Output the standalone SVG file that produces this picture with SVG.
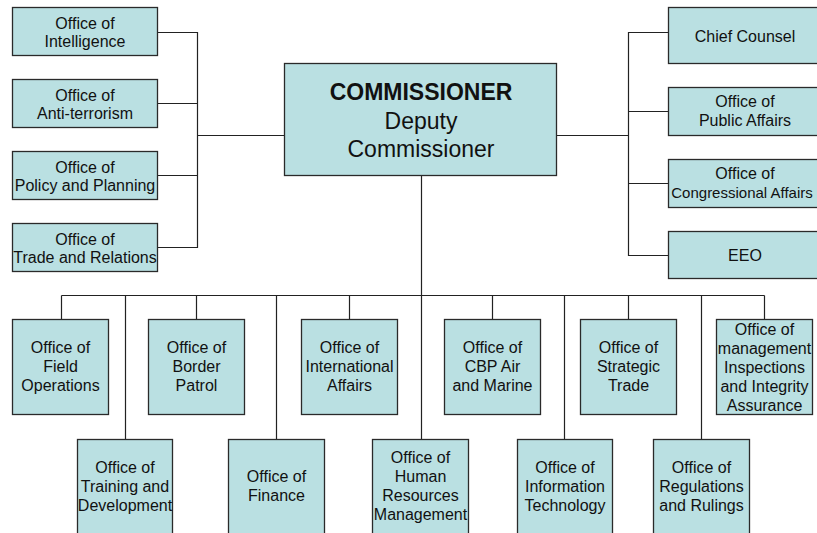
<svg xmlns="http://www.w3.org/2000/svg" width="817" height="533" viewBox="0 0 817 533">
<style>
.box{fill:#BAE0E2;stroke:#2a2a2a;stroke-width:1.3}
.t{font-family:"Liberation Sans",Arial,sans-serif;font-size:16px;fill:#111;text-anchor:middle}
.big{font-family:"Liberation Sans",Arial,sans-serif;font-size:23px;fill:#111;text-anchor:middle}
.c{fill:none;stroke:#222;stroke-width:1.2}
</style>
<rect width="817" height="533" fill="#fff"/>
<g id="connectors" class="c">
<path d="M157,32.5 H197.5 V247.5 H157 M157,103.5 H197.5 M157,175.5 H197.5 M197.5,135.5 H284"/>
<path d="M668,32.5 H628.5 V255.5 H668 M628.5,111.5 H668 M628.5,183.5 H668 M557,135.5 H628.5"/>
<path d="M421.5,176 V439 M61.5,295.5 H764.5"/>
<path d="M61.5,295.5 V319 M125.5,295.5 V439 M196.5,295.5 V319 M276.5,295.5 V439 M349.5,295.5 V319 M492.5,295.5 V319 M564.5,295.5 V439 M628.5,295.5 V319 M701.5,295.5 V439 M764.5,295.5 V319"/>
</g>
<g id="commissioner">
<rect class="box" x="284.5" y="63.5" width="272" height="112"/>
<text class="big" x="421" y="100" font-weight="bold">COMMISSIONER</text>
<text class="big" x="421" y="129">Deputy</text>
<text class="big" x="421" y="157">Commissioner</text>
</g>
<g id="intelligence">
<rect class="box" x="12.5" y="7.5" width="145" height="48"/>
<text class="t" x="85" y="29">Office of</text><text class="t" x="85" y="47">Intelligence</text>
</g>
<g id="antiterrorism">
<rect class="box" x="12.5" y="79.5" width="145" height="48"/>
<text class="t" x="85" y="101">Office of</text><text class="t" x="85" y="119">Anti-terrorism</text>
</g>
<g id="policy">
<rect class="box" x="12.5" y="151.5" width="145" height="48"/>
<text class="t" x="85" y="173">Office of</text><text class="t" x="85" y="191">Policy and Planning</text>
</g>
<g id="trade-relations">
<rect class="box" x="12.5" y="223.5" width="145" height="48"/>
<text class="t" x="85" y="245">Office of</text><text class="t" x="85" y="263">Trade and Relations</text>
</g>
<g id="chief-counsel">
<rect class="box" x="668.5" y="7.5" width="154" height="56"/>
<text class="t" x="745" y="42">Chief Counsel</text>
</g>
<g id="public-affairs">
<rect class="box" x="668.5" y="87.5" width="154" height="48"/>
<text class="t" x="745" y="107">Office of</text><text class="t" x="745" y="126">Public Affairs</text>
</g>
<g id="congressional">
<rect class="box" x="668.5" y="159.5" width="154" height="48"/>
<text class="t" x="745" y="179">Office of</text><text class="t" x="742" y="198" style="font-size:15px">Congressional Affairs</text>
</g>
<g id="eeo">
<rect class="box" x="668.5" y="231.5" width="154" height="47"/>
<text class="t" x="745" y="261">EEO</text>
</g>
<g id="field-operations">
<rect class="box" x="12.5" y="319.5" width="96" height="95"/>
<text class="t" x="60.5" y="353">Office of</text><text class="t" x="60.5" y="372">Field</text><text class="t" x="60.5" y="391">Operations</text>
</g>
<g id="border-patrol">
<rect class="box" x="148.5" y="319.5" width="96" height="95"/>
<text class="t" x="196.5" y="353">Office of</text><text class="t" x="196.5" y="372">Border</text><text class="t" x="196.5" y="391">Patrol</text>
</g>
<g id="international">
<rect class="box" x="301.5" y="319.5" width="96" height="95"/>
<text class="t" x="349.5" y="353">Office of</text><text class="t" x="349.5" y="372">International</text><text class="t" x="349.5" y="391">Affairs</text>
</g>
<g id="cbp-air-marine">
<rect class="box" x="444.5" y="319.5" width="96" height="95"/>
<text class="t" x="492.5" y="353">Office of</text><text class="t" x="492.5" y="372">CBP Air</text><text class="t" x="492.5" y="391">and Marine</text>
</g>
<g id="strategic-trade">
<rect class="box" x="580.5" y="319.5" width="96" height="95"/>
<text class="t" x="628.5" y="353">Office of</text><text class="t" x="628.5" y="372">Strategic</text><text class="t" x="628.5" y="391">Trade</text>
</g>
<g id="management-inspections">
<rect class="box" x="716.5" y="319.5" width="96" height="95"/>
<text class="t" x="764.5" y="335">Office of</text><text class="t" x="764.5" y="354">management</text><text class="t" x="764.5" y="373">Inspections</text><text class="t" x="764.5" y="392">and Integrity</text><text class="t" x="764.5" y="411">Assurance</text>
</g>
<g id="training">
<rect class="box" x="77.5" y="439.5" width="95" height="100"/>
<text class="t" x="125" y="473">Office of</text><text class="t" x="125" y="492">Training and</text><text class="t" x="125" y="511">Development</text>
</g>
<g id="finance">
<rect class="box" x="228.5" y="439.5" width="96" height="100"/>
<text class="t" x="276.5" y="482">Office of</text><text class="t" x="276.5" y="501">Finance</text>
</g>
<g id="human-resources">
<rect class="box" x="372.5" y="439.5" width="96" height="100"/>
<text class="t" x="420.5" y="463">Office of</text><text class="t" x="420.5" y="482">Human</text><text class="t" x="420.5" y="501">Resources</text><text class="t" x="420.5" y="520">Management</text>
</g>
<g id="information-technology">
<rect class="box" x="517.5" y="439.5" width="95" height="100"/>
<text class="t" x="565" y="473">Office of</text><text class="t" x="565" y="492">Information</text><text class="t" x="565" y="511">Technology</text>
</g>
<g id="regulations">
<rect class="box" x="653.5" y="439.5" width="96" height="100"/>
<text class="t" x="701.5" y="473">Office of</text><text class="t" x="701.5" y="492">Regulations</text><text class="t" x="701.5" y="511">and Rulings</text>
</g>
</svg>
